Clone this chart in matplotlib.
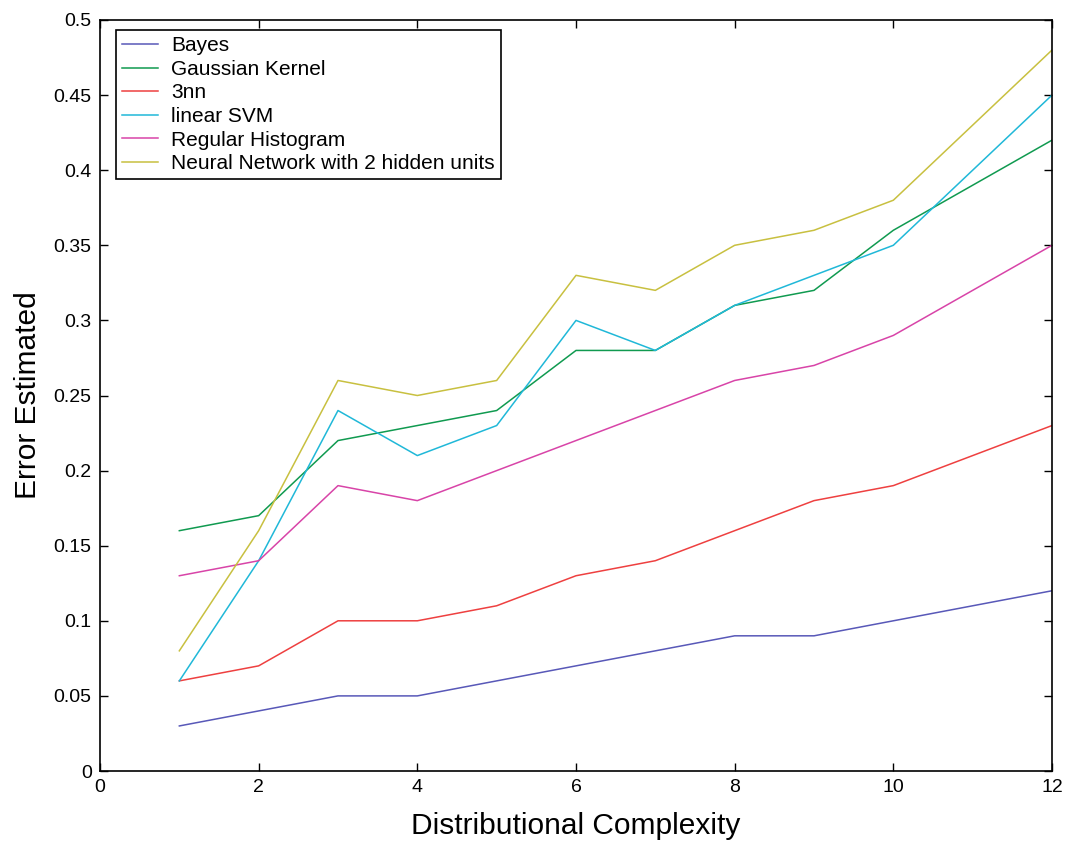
import numpy as np
import matplotlib
matplotlib.use("Agg")
import matplotlib.pyplot as plt

plt.rcParams['font.family'] = ['Liberation Sans', 'DejaVu Sans']

# datos
complejidad = [1, 2, 3, 4, 5, 6, 7, 8, 9, 10, 12]
bayes = [0.03, 0.04, 0.05, 0.05, 0.06, 0.07, 0.08, 0.09, 0.09, 0.10, 0.12]
gaussian = [0.16, 0.17, 0.22, 0.23, 0.24, 0.28, 0.28, 0.31, 0.32, 0.36, 0.42]
knn3 = [0.06, 0.07, 0.10, 0.10, 0.11, 0.13, 0.14, 0.16, 0.18, 0.19, 0.23]
svm = [0.06, 0.14, 0.24, 0.21, 0.23, 0.30, 0.28, 0.31, 0.33, 0.35, 0.45]
histograma = [0.13, 0.14, 0.19, 0.18, 0.20, 0.22, 0.24, 0.26, 0.27, 0.29, 0.35]
red_neuronal = [0.08, 0.16, 0.26, 0.25, 0.26, 0.33, 0.32, 0.35, 0.36, 0.38, 0.48]

series = [
    ("Bayes", bayes, "#5858b8"),
    ("Gaussian Kernel", gaussian, "#109a50"),
    ("3nn", knn3, "#ee4040"),
    ("linear SVM", svm, "#20b8d8"),
    ("Regular Histogram", histograma, "#d844a8"),
    ("Neural Network with 2 hidden units", red_neuronal, "#c8c040"),
]

fig = plt.figure(figsize=(10.68, 8.44), dpi=100)
ax = fig.add_axes([100 / 1068, 73 / 844, 952 / 1068, 751 / 844])

for nombre, valores, color in series:
    ax.plot(complejidad, valores, color=color, linewidth=1.1, label=nombre)

ax.set_xlim(0, 12)
ax.set_ylim(0, 0.5)
ax.set_xticks(range(0, 13, 2))
ax.set_yticks(np.arange(0, 0.501, 0.05))
ax.set_yticklabels(["0", "0.05", "0.1", "0.15", "0.2", "0.25", "0.3",
                    "0.35", "0.4", "0.45", "0.5"])
ax.tick_params(direction="in", top=True, right=True, length=6, width=1,
               labelsize=14, pad=6)
for s in ax.spines.values():
    s.set_linewidth(1.2)

ax.set_xlabel("Distributional Complexity", fontsize=21.5, labelpad=11)
ax.set_ylabel("Error Estimated", fontsize=21.5, labelpad=8)

leg = ax.legend(loc="upper left", bbox_to_anchor=(16 / 952, 1 - 10 / 751),
                borderaxespad=0, fontsize=15, handlelength=1.7,
                handletextpad=0.65, labelspacing=0.22, borderpad=0.3,
                fancybox=False, framealpha=1)
leg.get_frame().set_edgecolor("black")
leg.get_frame().set_linewidth(1.2)

fig.savefig("out.png", dpi=100)
